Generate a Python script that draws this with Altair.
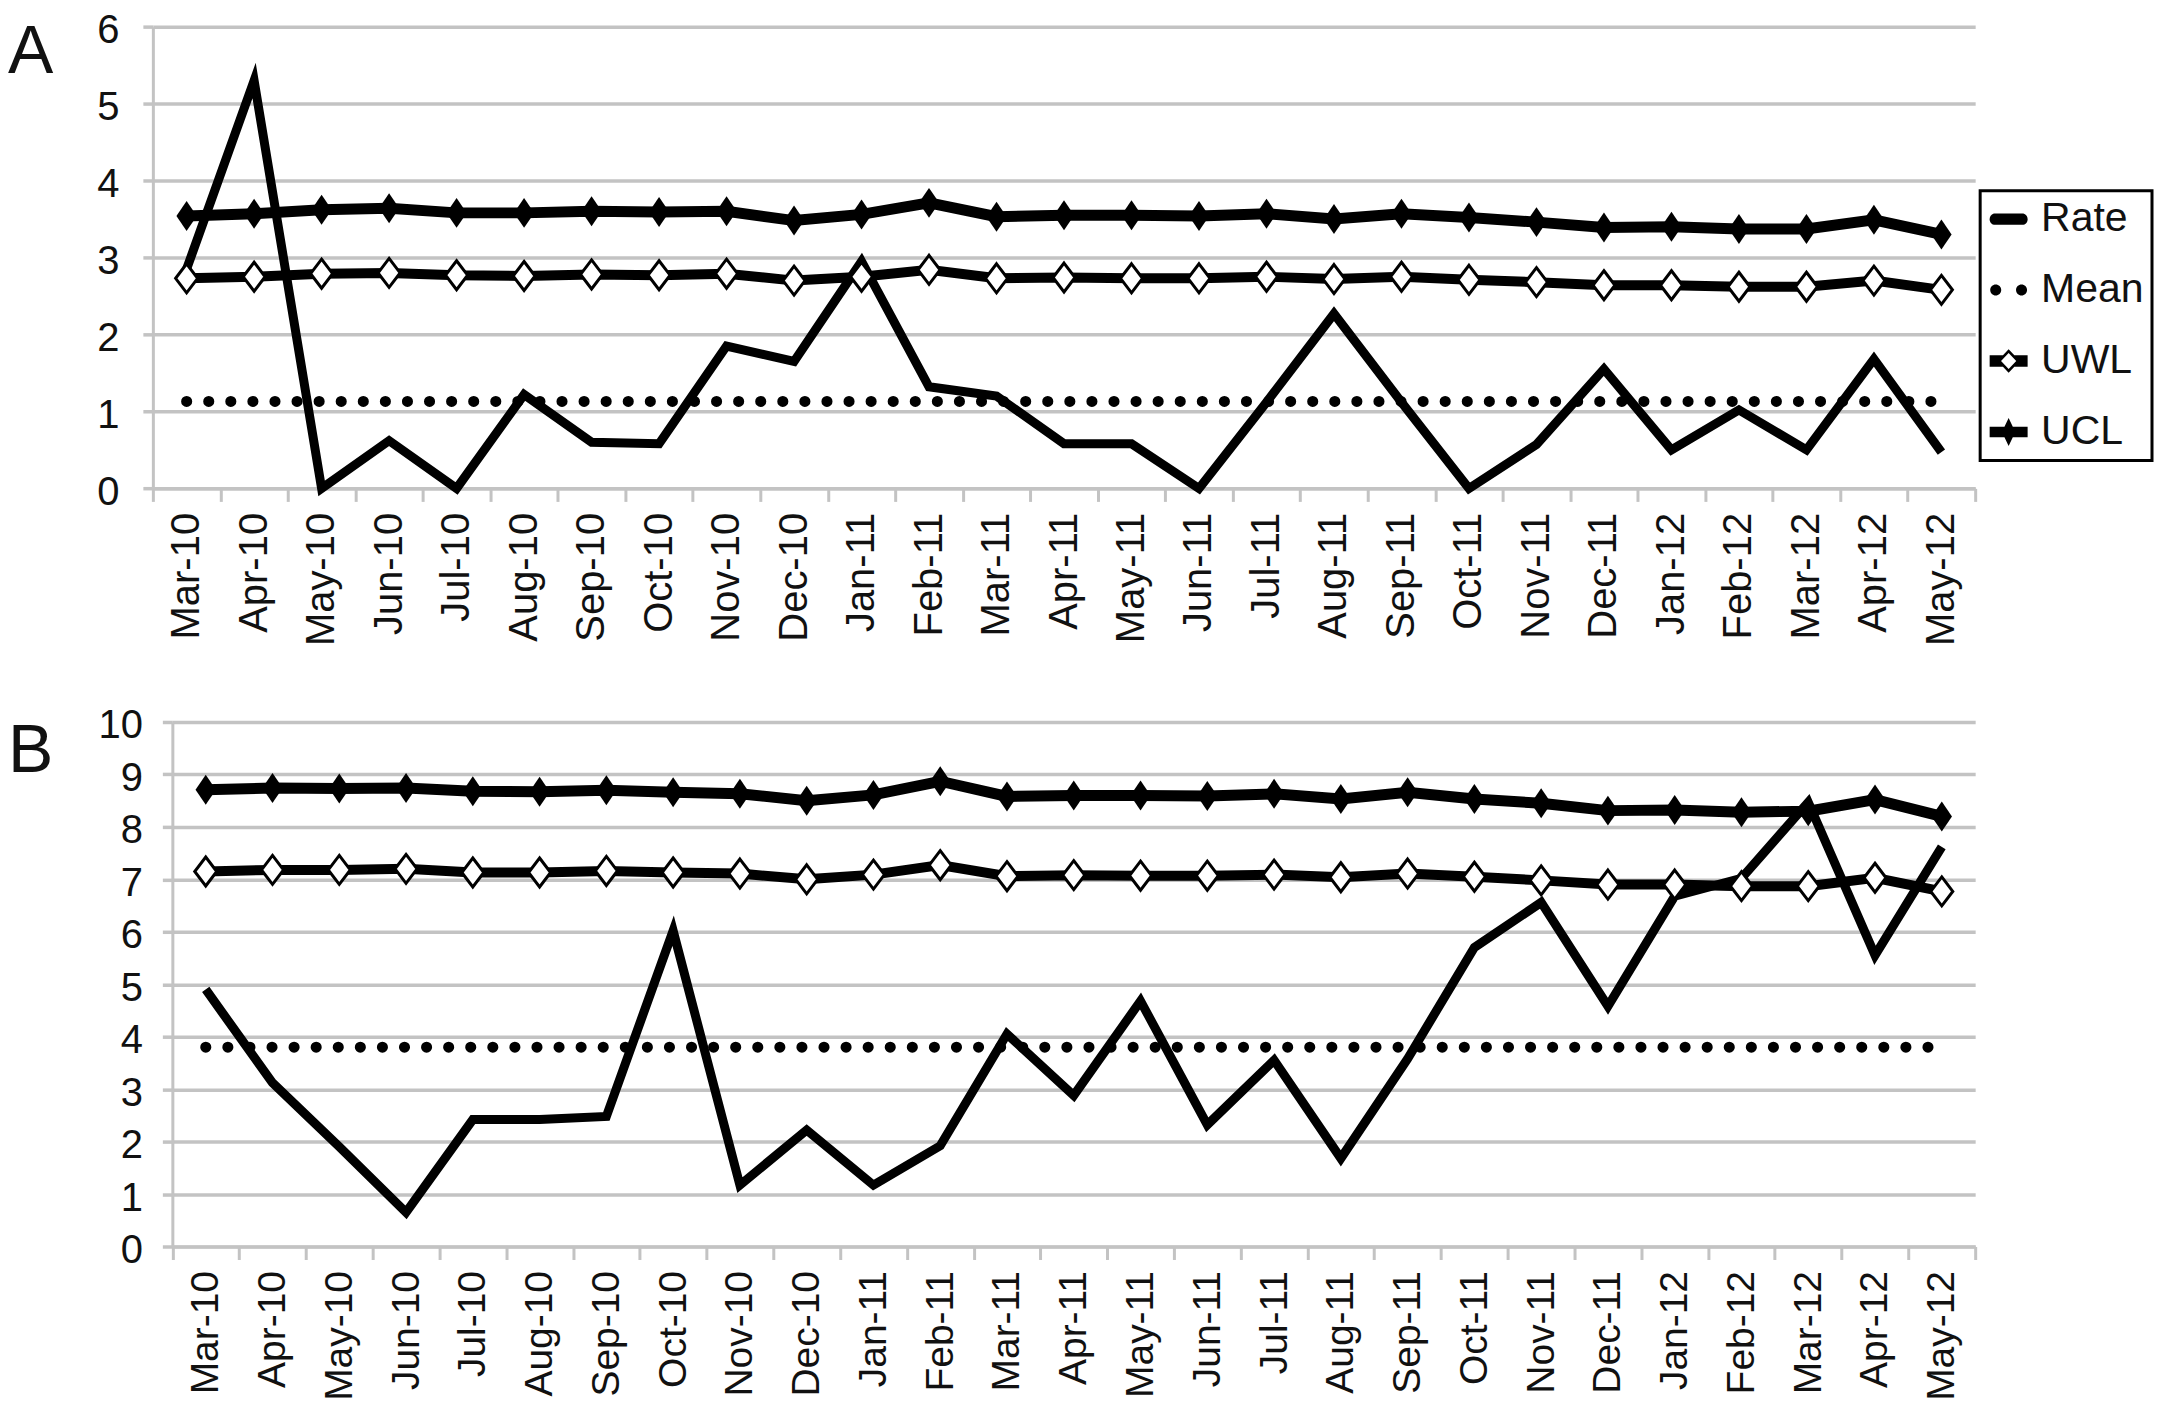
import altair as alt
import pandas as pd

# ---------------- data ----------------
months = ["Mar-10", "Apr-10", "May-10", "Jun-10", "Jul-10", "Aug-10", "Sep-10", "Oct-10",
          "Nov-10", "Dec-10", "Jan-11", "Feb-11", "Mar-11", "Apr-11", "May-11", "Jun-11",
          "Jul-11", "Aug-11", "Sep-11", "Oct-11", "Nov-11", "Dec-11", "Jan-12", "Feb-12",
          "Mar-12", "Apr-12", "May-12"]

a_rate = [2.85, 5.30, 0.00, 0.62, 0.00, 1.22, 0.60, 0.58, 1.85, 1.65, 2.95, 1.32, 1.20, 0.58,
          0.58, 0.00, 1.12, 2.27, 1.12, 0.00, 0.57, 1.55, 0.50, 1.02, 0.50, 1.68, 0.47]
a_ucl = [3.54, 3.57, 3.62, 3.64, 3.58, 3.58, 3.60, 3.59, 3.60, 3.48, 3.56, 3.71, 3.53, 3.55,
         3.55, 3.54, 3.57, 3.50, 3.57, 3.52, 3.46, 3.39, 3.40, 3.37, 3.37, 3.49, 3.30]
a_uwl = [2.73, 2.75, 2.79, 2.80, 2.77, 2.76, 2.78, 2.77, 2.79, 2.70, 2.75, 2.84, 2.73, 2.74,
         2.73, 2.73, 2.75, 2.72, 2.75, 2.71, 2.68, 2.64, 2.64, 2.62, 2.62, 2.70, 2.58]
a_mean = 1.13

b_rate = [4.90, 3.12, 1.90, 0.65, 2.42, 2.42, 2.48, 6.02, 1.17, 2.22, 1.17, 1.92, 4.05, 2.88,
          4.68, 2.32, 3.55, 1.68, 3.58, 5.70, 6.56, 4.58, 6.68, 7.02, 8.47, 5.55, 7.62]
b_ucl = [8.71, 8.74, 8.73, 8.74, 8.68, 8.67, 8.70, 8.66, 8.63, 8.50, 8.61, 8.87, 8.58, 8.60,
         8.60, 8.59, 8.63, 8.53, 8.66, 8.53, 8.45, 8.31, 8.32, 8.28, 8.30, 8.52, 8.20]
b_uwl = [7.15, 7.18, 7.18, 7.20, 7.13, 7.13, 7.16, 7.13, 7.11, 7.00, 7.09, 7.27, 7.06, 7.08,
         7.07, 7.07, 7.09, 7.04, 7.11, 7.05, 6.98, 6.90, 6.90, 6.87, 6.87, 7.03, 6.77]
b_mean = 3.8

a_ticks = [0, 1, 2, 3, 4, 5, 6]
b_ticks = [0, 1, 2, 3, 4, 5, 6, 7, 8, 9, 10]
series = ["Rate", "Mean", "UWL", "UCL"]

# ---------------- style ----------------
FONT = "Liberation Sans"
GRID = "#c3c3c3"
INK = "#111111"

UCL_SHAPE = "M0,-1L0.68,0L0,1L-0.68,0Z"
UWL_SHAPE = "M0,-1L0.76,0L0,1L-0.76,0Z"


def circle(cx, cy, r):
    k = 0.5523 * r
    f = lambda v: f"{v:.3f}"
    return (f"M{f(cx - r)},{f(cy)}C{f(cx - r)},{f(cy - k)} {f(cx - k)},{f(cy - r)} {f(cx)},{f(cy - r)}"
            f"C{f(cx + k)},{f(cy - r)} {f(cx + r)},{f(cy - k)} {f(cx + r)},{f(cy)}"
            f"C{f(cx + r)},{f(cy + k)} {f(cx + k)},{f(cy + r)} {f(cx)},{f(cy + r)}"
            f"C{f(cx - k)},{f(cy + r)} {f(cx - r)},{f(cy + k)} {f(cx - r)},{f(cy)}Z")


LEG_RATE = ("M-0.72,-0.3L0.72,-0.3C0.88,-0.3 1,-0.17 1,0C1,0.17 0.88,0.3 0.72,0.3"
            "L-0.72,0.3C-0.88,0.3 -1,0.17 -1,0C-1,-0.17 -0.88,-0.3 -0.72,-0.3Z")
LEG_MEAN = circle(-0.68, 0, 0.29) + circle(0.68, 0, 0.29)
LEG_UWL = ("M-1,-0.3L-0.3,-0.3L0,-0.62L0.3,-0.3L1,-0.3L1,0.3L0.3,0.3L0,0.62L-0.3,0.3L-1,0.3Z"
           "M0,-0.42L-0.4,0L0,0.42L0.4,0Z")
LEG_UCL = ("M-1,-0.28L-0.22,-0.28L0,-0.74L0.22,-0.28L1,-0.28L1,0.28L0.22,0.28L0,0.74"
           "L-0.22,0.28L-1,0.28Z")
leg_shapes = [LEG_RATE, LEG_MEAN, LEG_UWL, LEG_UCL]

PLOT_W = 1824


def panel(label, rate, ucl, uwl, mean, ymax, yticks, x0, ylabpad, xlabpad, xfont,
          height, legend_y, label_y):
    df = pd.DataFrame({"month": months, "Rate": rate, "UCL": ucl, "UWL": uwl,
                       "Mean": [mean] * len(months)})

    xscale = alt.Scale(paddingInner=0, paddingOuter=0, range=[x0, PLOT_W])
    x = alt.X("month:N", sort=months, title=None, scale=xscale,
              axis=alt.Axis(labelAngle=270, labelAlign="right", labelBaseline="middle",
                            labelPadding=xlabpad, labelFont=FONT, labelFontSize=xfont,
                            labelColor=INK, tickBand="extent", tickSize=13, tickWidth=3,
                            tickColor=GRID, domainColor=GRID, domainWidth=3, grid=False,
                            labelOverlap=False))

    def y(field):
        return alt.Y(f"{field}:Q", title=None,
                     scale=alt.Scale(domain=[0, ymax], nice=False, zero=True),
                     axis=alt.Axis(values=yticks, format="d", labelFont=FONT, labelFontSize=40,
                                   labelColor=INK, labelPadding=ylabpad, labelOffset=4,
                                   offset=-x0, tickSize=10, tickWidth=3.5, tickColor=GRID,
                                   domainColor=GRID, domainWidth=3, grid=True,
                                   gridColor=GRID, gridWidth=3.5))

    base = alt.Chart(df).encode(x=x)
    rate_l = base.mark_line(color="black", strokeWidth=9, strokeJoin="miter").encode(y=y("Rate"))
    mean_l = base.mark_line(color="black", strokeWidth=11, strokeDash=[0.1, 22],
                            strokeCap="round").encode(y=y("Mean"))
    uwl_l = base.mark_line(color="black", strokeWidth=10).encode(y=y("UWL"))
    uwl_p = base.mark_point(shape=UWL_SHAPE, size=841, filled=True, fill="white",
                            stroke="black", strokeWidth=3, opacity=1).encode(y=y("UWL"))
    ucl_l = base.mark_line(color="black", strokeWidth=11).encode(y=y("UCL"))
    ucl_p = base.mark_point(shape=UCL_SHAPE, size=900, filled=True, color="black",
                            opacity=1).encode(y=y("UCL"))

    leg = alt.Chart(pd.DataFrame({"series": series})).transform_filter("false").mark_point(
        filled=True, color="black").encode(
        shape=alt.Shape("series:N", scale=alt.Scale(domain=series, range=leg_shapes),
                        legend=alt.Legend(title=None, orient="none", legendX=1829,
                                          legendY=legend_y, direction="vertical",
                                          labelFont=FONT, labelFontSize=41, labelColor=INK,
                                          labelOffset=12, labelLimit=0, symbolSize=1444,
                                          symbolFillColor="black", symbolStrokeWidth=0,
                                          symbolOpacity=1, fillColor="white", padding=8)))

    lab = alt.Chart(pd.DataFrame({"t": [label]})).mark_text(
        font=FONT, fontSize=68, align="left", baseline="alphabetic", color=INK).encode(
        text="t:N", x=alt.value(-145), y=alt.value(label_y))

    return alt.layer(rate_l, mean_l, uwl_l, uwl_p, ucl_l, ucl_p, leg, lab).properties(
        width=PLOT_W, height=height)


chart_a = panel("A", a_rate, a_ucl, a_uwl, a_mean, 6, a_ticks, 0, 24, 11, 40,
                462.2, 164.2, 46)
chart_b = panel("B", b_rate, b_ucl, b_uwl, b_mean, 10, b_ticks, 19.5, 20, 11, 39,
                525, 203.3, 50)

chart = alt.vconcat(chart_a, chart_b, spacing=60).properties(
    padding={"top": 2, "left": 0, "right": 0, "bottom": -2},
    background="white",
).configure_view(strokeWidth=0).configure_legend(
    strokeColor="black", strokeWidth=3, rowPadding=29, cornerRadius=0
)

chart.save("out.html", embed_options={"renderer": "svg", "actions": False})
